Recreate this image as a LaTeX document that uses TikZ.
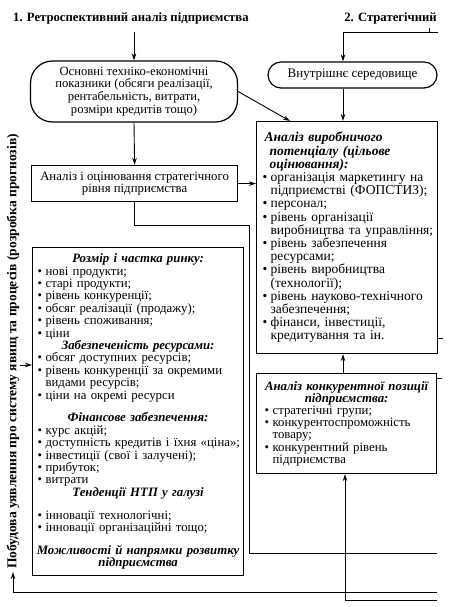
\documentclass[tikz,border=0pt]{standalone}
\usepackage{fontspec}
\setmainfont{Liberation Serif}
\usetikzlibrary{arrows.meta,calc}
\newcommand{\bi}[1]{\mbox{\makebox[8pt][l]{\textbullet}#1}}
\newcommand{\ci}[1]{\mbox{\hspace*{8pt}#1}}
\newcommand{\hd}[1]{\makebox[\linewidth][c]{\bfseries\itshape #1}}
\newcommand{\hl}[1]{\mbox{\bfseries\itshape #1}}
\begin{document}
\begin{tikzpicture}[x=1pt,y=-1pt,
  conn/.style={line width=0.9pt},
  arr/.style={line width=0.9pt,-{Stealth[length=7pt,width=4.5pt]}},
  frame/.style={draw,line width=1.2pt,inner ysep=0pt},
  listbox/.style={frame,align=left,anchor=north west},
  roundbox/.style={frame,align=center},
  title/.style={font=\bfseries\fontsize{12.7}{14}\selectfont,inner sep=0pt}]
\fill[white] (0,0) rectangle (455,607);
\useasboundingbox (0,0) rectangle (455,607);

% titles
\node[title,anchor=base west] (t1) at (13,22) {1. Ретроспективний аналіз підприємства};
\node[title,anchor=base east] (t2) at (437,22) {2. Стратегічний};

% top boxes
\node[roundbox,minimum width=207pt,minimum height=61pt,rounded corners=22pt,
  font=\fontsize{12.6}{12.8}\selectfont] (box1) at (134,91.5)
  {Основні техніко-економічні\\показники (обсяги реалізації,\\рентабельність, витрати,\\розміри кредитів тощо)};
\node[roundbox,minimum width=169pt,minimum height=26pt,rounded corners=13pt,
  font=\fontsize{13}{13}\selectfont] (box2) at (352.5,75)
  {Внутрішнє середовище};

\node[frame,anchor=north west,minimum width=206pt,minimum height=36pt,align=center,
  font=\fontsize{12.8}{12}\selectfont] (ana) at (31,165)
  {Аналіз і оцінювання стратегічного\\рівня підприємства};

% right big box
\node[listbox,text width=169pt,inner xsep=6pt,minimum height=232pt,
  font=\fontsize{13.5}{13.2}\selectfont] (pot) at (256,121)
  {\hspace*{2pt}\hl{Аналіз виробничого}\\
   \hspace*{7pt}\hl{потенціалу (цільове}\\
   \hspace*{7pt}\hl{оцінювання):}\\
   \bi{організація маркетингу на}\\
   \ci{підприємстві (ФОПСТИЗ);}\\
   \bi{персонал;}\\
   \bi{рівень організації}\\
   \ci{виробництва та управління;}\\
   \bi{рівень забезпечення}\\
   \ci{ресурсами;}\\
   \bi{рівень виробництва}\\
   \ci{(технології);}\\
   \bi{рівень науково-технічного}\\
   \ci{забезпечення;}\\
   \bi{фінанси, інвестиції,}\\
   \ci{кредитування та ін.}};

% competitive box
\node[listbox,text width=164pt,inner xsep=6pt,minimum width=180pt,minimum height=100pt,
  font=\fontsize{12.8}{12.2}\selectfont] (comp) at (256,373)
  {\hd{Аналіз конкурентної позиції}\\
   \hd{підприємства:}\\
   \bi{стратегічні групи;}\\
   \bi{конкурентоспроможність}\\
   \ci{товару;}\\
   \bi{конкурентний рівень}\\
   \ci{підприємства}};

% left big box
\node[listbox,text width=201pt,inner xsep=5pt,minimum height=328pt,
  font=\fontsize{12.8}{12.4}\selectfont] (lb) at (32,247)
  {\hd{Розмір і частка ринку:}\\
   \bi{нові продукти;}\\
   \bi{старі продукти;}\\
   \bi{рівень конкуренції;}\\
   \bi{обсяг реалізації (продажу);}\\
   \bi{рівень споживання;}\\
   \bi{ціни}\\
   \hd{Забезпеченість ресурсами:}\\
   \bi{обсяг доступних ресурсів;}\\
   \bi{рівень конкуренції за окремими}\\
   \ci{видами ресурсів;}\\
   \bi{ціни на окремі ресурси}\\[10.4pt]
   \hd{Фінансове забезпечення:}\\
   \bi{курс акцій;}\\
   \bi{доступність кредитів і їхня «ціна»;}\\
   \bi{інвестиції (свої і залучені);}\\
   \bi{прибуток;}\\
   \bi{витрати}\\
   \hd{Тенденції НТП у галузі}\\[10.4pt]
   \bi{інновації технологічні;}\\
   \bi{інновації організаційні тощо;}\\[10.4pt]
   \hd{Можливості й напрямки розвитку}\\
   \hd{підприємства}};

% vertical text
\node[rotate=90,anchor=west,inner sep=3pt,font=\bfseries\fontsize{13.5}{14}\selectfont] (vt) at (13,572)
  {Побудова уявлення про систему явищ та процесів (розробка прогнозів)};

% coordinates
\coordinate (a1) at (134,32);
\coordinate (sx) at (343,32);
\coordinate (sr) at (438,32);
\coordinate (tk) at (429,32);
\coordinate (r1) at (249,225);
\coordinate (e1) at (437,553);
\coordinate (b2) at (437,592);
\coordinate (b1) at (437,600);
\coordinate (cx) at (345,600);
\coordinate (q) at (20,365);

% connectors
\draw[arr] (a1) -- (a1 |- box1.north);
\draw[arr] (box1.south) -- (ana.north);
\draw[arr] (ana.east) -- (ana.east -| pot.west);
\draw[arr] (box1.east) -- ($(pot.north west)+(34,0)$);
\draw[conn] (sx) -- (sr);
\draw[conn] (tk) -- ++(0,-4);
\draw[arr] (sx) -- (sx |- box2.north);
\draw[arr] (sx |- box2.south) -- (sx |- pot.north);
\draw[arr] (sx |- comp.north) -- (sx |- pot.south);
\draw[conn] (ana.south) |- (r1) -- (r1 |- e1) -- (e1);
\draw[conn] ($(pot.south east)+(0,-16)$) -- ++(5,0);
\draw[conn] ($(comp.north east)+(0,5)$) -- ++(5,0);
\draw[arr] (b1) -| (cx |- comp.south);
\draw[arr] (b2) -| (vt.west);
\draw[arr] (q) -- (q -| lb.west);
\end{tikzpicture}
\end{document}
